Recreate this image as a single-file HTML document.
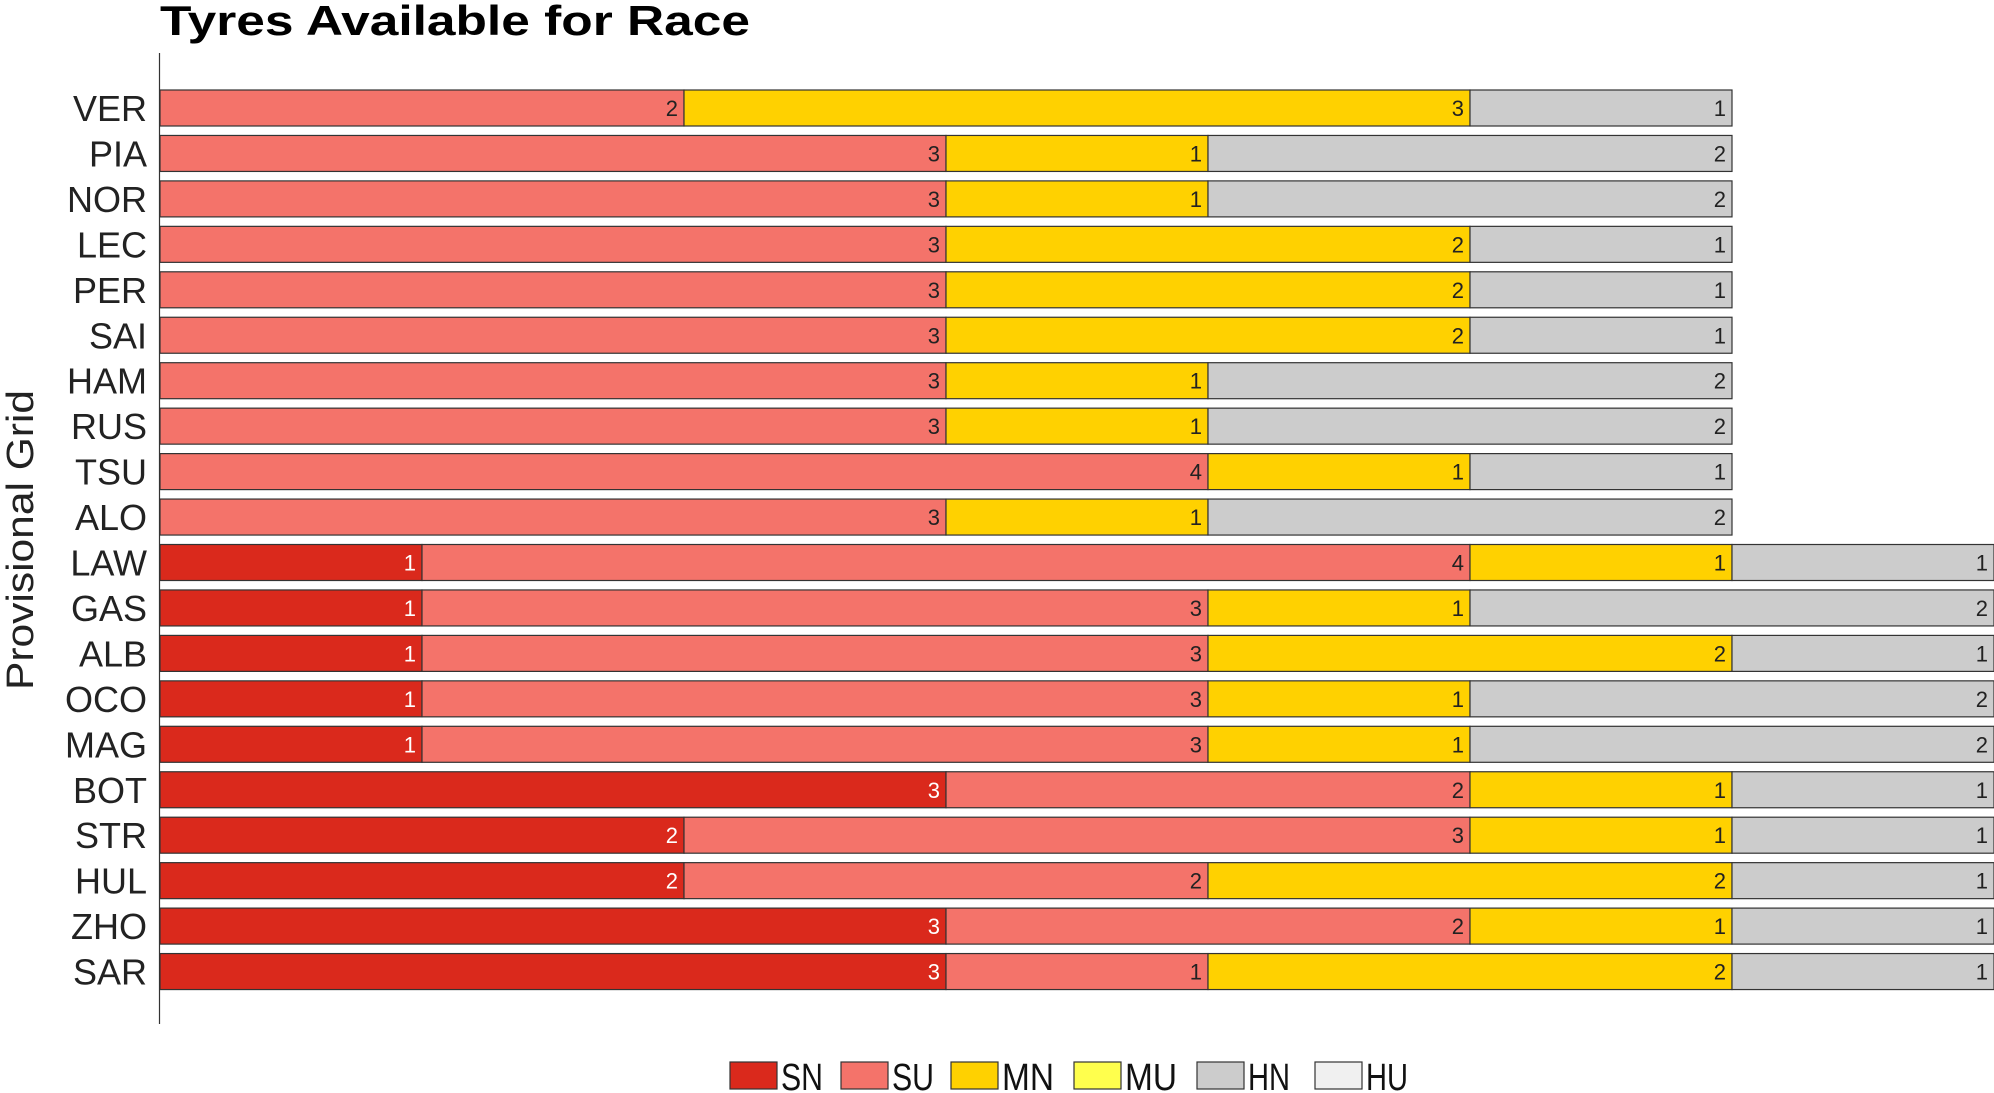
<!DOCTYPE html>
<html><head><meta charset="utf-8"><style>
html,body{margin:0;padding:0;background:#fff;}
svg{display:block;font-family:"Liberation Sans",sans-serif;}
</style></head><body>
<svg id="chart" width="1994" height="1093" viewBox="0 0 1994 1093">
<text x="160" y="35" font-size="42" font-weight="bold" fill="#000" textLength="590" lengthAdjust="spacingAndGlyphs">Tyres Available for Race</text>
<line x1="159.5" y1="53" x2="159.5" y2="1024" stroke="#333" stroke-width="1.2"/>
<text transform="translate(33,540) rotate(-90)" text-anchor="middle" font-size="38" fill="#222" textLength="300" lengthAdjust="spacingAndGlyphs">Provisional Grid</text>
<g id="bars"></g>
<g id="legend"></g>
</svg>
<script>
const drivers=["VER","PIA","NOR","LEC","PER","SAI","HAM","RUS","TSU","ALO","LAW","GAS","ALB","OCO","MAG","BOT","STR","HUL","ZHO","SAR"];
const SN=[0,0,0,0,0,0,0,0,0,0,1,1,1,1,1,3,2,2,3,3];
const SU=[2,3,3,3,3,3,3,3,4,3,4,3,3,3,3,2,3,2,2,1];
const MN=[3,1,1,2,2,2,1,1,1,1,1,1,2,1,1,1,1,2,1,2];
const MU=[0,0,0,0,0,0,0,0,0,0,0,0,0,0,0,0,0,0,0,0];
const HN=[1,2,2,1,1,1,2,2,1,2,1,2,1,2,2,1,1,1,1,1];
const HU=[0,0,0,0,0,0,0,0,0,0,0,0,0,0,0,0,0,0,0,0];
const seriesNames=["SN","SU","MN","MU","HN","HU"];
const seriesData=[SN,SU,MN,MU,HN,HU];
const colors=["#da291c","#f4736a","#ffd100","#ffff4d","#cccccc","#f0f0f0"];
const NS="http://www.w3.org/2000/svg";
const x0=160, unit=262, y0=108, step=45.45, bh=36;
const xs=v=>x0+v*unit;
const ys=i=>y0+i*step;
const g=document.getElementById('bars');
function el(t,a){const e=document.createElementNS(NS,t);for(const k in a)e.setAttribute(k,a[k]);return e;}
drivers.forEach((d,i)=>{
  const cy=ys(i);
  const lab=el('text',{x:147,y:cy+13,'text-anchor':'end','font-size':36,fill:'#222'});
  
  
  lab.textContent=d; g.appendChild(lab);
  let acc=0;
  seriesData.forEach((s,k)=>{
    const v=s[i]; if(!v) return;
    const r=el('rect',{x:xs(acc),y:cy-bh/2,width:xs(acc+v)-xs(acc),height:bh,fill:colors[k],stroke:'#333','stroke-width':1.2});
    
    
    g.appendChild(r);
    acc+=v;
    const t=el('text',{x:xs(acc)-6,y:cy+8,'text-anchor':'end','font-size':22,fill:k===0?'#fff':'#222'});
    
    
    t.textContent=v; g.appendChild(t);
  });
});
const lg=document.getElementById('legend');
const lx=[730,841,951,1074,1197,1315];
seriesNames.forEach((n,k)=>{
  const r=el('rect',{x:lx[k],y:1062,width:47,height:27,fill:colors[k],stroke:'#333','stroke-width':1.2});
  
  
  lg.appendChild(r);
  const t=el('text',{x:lx[k]+51,y:1090,'font-size':38,fill:'#111',textLength:n.length===2?(n[0]==='M'?52:42):42,lengthAdjust:'spacingAndGlyphs'});
  
  
  t.textContent=n; lg.appendChild(t);
});
</script>
</body></html>
